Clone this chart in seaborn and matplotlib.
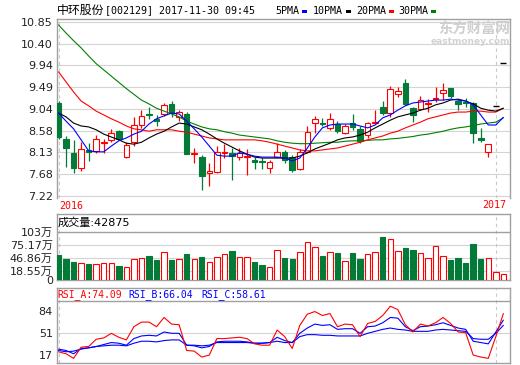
import numpy as np
import matplotlib
matplotlib.use("Agg")
import matplotlib.pyplot as plt
from matplotlib.patches import Rectangle
import seaborn as sns

# ---------------- data ----------------
open_ = [9.16, 8.41, 8.12, 7.80, 8.18, 8.16, 8.32, 8.39, 8.57, 8.03,
         8.34, 8.70, 8.93, 8.82, 8.93, 9.14, 8.87, 8.93, 8.09, 8.03,
         7.70, 7.72, 8.11, 8.11, 8.03, 8.03, 7.97, 7.95, 7.80, 8.03,
         8.14, 8.03, 7.78, 8.14, 8.74, 8.74, 8.64, 8.72, 8.53, 8.74,
         8.62, 8.49, 8.74, 9.08, 8.95, 9.35, 9.58, 9.05, 9.03, 9.14,
         9.24, 9.37, 9.47, 9.20, 9.18, 9.16, 8.43, 8.14, 9.10, 9.99]
high = [9.20, 8.47, 8.39, 8.34, 8.32, 8.49, 8.41, 8.62, 8.60, 8.34,
        8.87, 9.01, 9.08, 8.91, 9.16, 9.20, 9.01, 8.97, 8.22, 8.07,
        7.91, 8.26, 8.30, 8.22, 8.22, 8.20, 8.03, 8.01, 7.97, 8.32,
        8.18, 8.07, 8.20, 8.68, 8.89, 8.85, 8.95, 8.78, 8.72, 8.93,
        8.68, 8.76, 9.01, 9.20, 9.51, 9.49, 9.66, 9.08, 9.30, 9.24,
        9.49, 9.58, 9.47, 9.22, 9.26, 9.18, 8.64, 8.30, 9.10, 9.99]
low = [8.40, 7.82, 7.70, 7.74, 7.95, 8.11, 8.11, 8.34, 8.39, 8.01,
       8.26, 8.64, 8.82, 8.68, 8.89, 8.87, 8.78, 8.09, 7.91, 7.34,
       7.43, 7.70, 8.01, 7.55, 7.97, 7.66, 7.78, 7.78, 7.70, 8.03,
       7.91, 7.72, 7.76, 8.11, 8.53, 8.68, 8.59, 8.53, 8.51, 8.59,
       8.32, 8.43, 8.72, 8.91, 8.87, 9.28, 9.12, 8.76, 9.01, 8.97,
       9.18, 9.22, 9.26, 9.01, 9.08, 8.32, 8.34, 8.03, 9.10, 9.99]
close = [8.45, 8.22, 7.80, 8.20, 8.14, 8.41, 8.34, 8.53, 8.41, 8.28,
         8.70, 8.89, 8.91, 8.78, 9.12, 8.95, 8.97, 8.09, 8.11, 7.63,
         7.74, 8.14, 8.14, 8.05, 8.11, 8.05, 7.93, 7.93, 7.93, 8.14,
         7.97, 7.76, 8.14, 8.55, 8.82, 8.72, 8.82, 8.57, 8.68, 8.66,
         8.37, 8.74, 8.76, 8.95, 9.45, 9.41, 9.14, 8.91, 9.22, 9.16,
         9.26, 9.43, 9.30, 9.14, 9.16, 8.53, 8.39, 8.30, 9.10, 9.99]
ma5 = [8.95, 8.78, 8.62, 8.39, 8.16, 8.14, 8.14, 8.26, 8.37, 8.43,
       8.51, 8.57, 8.72, 8.83, 8.89, 8.95, 8.93, 8.78, 8.62, 8.45,
       8.26, 8.07, 8.05, 8.05, 8.12, 8.09, 8.05, 8.03, 8.03, 8.03,
       8.01, 7.95, 8.01, 8.22, 8.45, 8.64, 8.70, 8.72, 8.72, 8.72,
       8.68, 8.64, 8.70, 8.85, 8.91, 9.01, 9.10, 9.16, 9.18, 9.20,
       9.22, 9.22, 9.24, 9.22, 9.20, 9.12, 8.91, 8.70, 8.70, 8.86]
ma10 = [8.95, 8.87, 8.74, 8.68, 8.66, 8.60, 8.51, 8.45, 8.39, 8.32,
        8.30, 8.34, 8.43, 8.51, 8.57, 8.66, 8.74, 8.72, 8.66, 8.60,
        8.51, 8.41, 8.32, 8.24, 8.16, 8.09, 8.03, 8.01, 8.01, 8.01,
        8.01, 8.01, 8.05, 8.12, 8.20, 8.26, 8.32, 8.39, 8.43, 8.45,
        8.49, 8.55, 8.64, 8.72, 8.80, 8.87, 8.91, 8.95, 9.01, 9.05,
        9.12, 9.16, 9.22, 9.24, 9.20, 9.14, 9.05, 9.01, 8.99, 9.05]
ma20 = [9.81, 9.60, 9.39, 9.20, 9.10, 8.99, 8.91, 8.83, 8.76, 8.68,
        8.62, 8.60, 8.57, 8.60, 8.60, 8.60, 8.57, 8.55, 8.51, 8.47,
        8.43, 8.41, 8.39, 8.39, 8.39, 8.39, 8.39, 8.37, 8.34, 8.30,
        8.26, 8.22, 8.18, 8.16, 8.16, 8.18, 8.20, 8.22, 8.26, 8.30,
        8.34, 8.39, 8.43, 8.47, 8.53, 8.57, 8.64, 8.70, 8.76, 8.83,
        8.87, 8.91, 8.95, 8.97, 8.97, 8.99, 8.99, 8.97, 8.97, 9.05]
ma30 = [10.79, 10.62, 10.46, 10.31, 10.14, 9.98, 9.85, 9.72, 9.59, 9.46,
        9.34, 9.22, 9.14, 9.05, 8.99, 8.93, 8.87, 8.78, 8.72, 8.66,
        8.62, 8.60, 8.56, 8.53, 8.49, 8.47, 8.45, 8.43, 8.41, 8.37,
        8.34, 8.32, 8.31, 8.31, 8.32, 8.33, 8.34, 8.34, 8.36, 8.37,
        8.37, 8.38, 8.39, 8.39, 8.41, 8.42, 8.44, 8.46, 8.49, 8.51,
        8.54, 8.57, 8.61, 8.64, 8.66, 8.69, 8.72, 8.74, 8.76, 8.85]
volume = [53.6, 45.1, 38.0, 35.8, 33.6, 33.6, 35.8, 35.8, 30.0, 27.2,
          45.1, 46.5, 51.5, 42.9, 59.4, 42.9, 44.4, 55.1, 45.1, 48.6,
          38.0, 50.1, 55.1, 62.2, 50.1, 50.1, 38.0, 32.2, 28.6, 64.4,
          47.9, 45.1, 59.4, 80.8, 70.1, 51.5, 59.4, 57.2, 40.8, 57.2,
          45.1, 55.1, 59.4, 91.6, 88.0, 62.2, 69.4, 64.4, 57.2, 47.9,
          73.6, 52.2, 42.9, 47.9, 35.8, 76.6, 45.1, 46.5, 16.5, 12.2]
rsi_a = [22, 19, 12, 29, 30, 41, 43, 50, 44, 40,
         60, 67, 67, 60, 74, 64, 63, 24, 23, 14,
         17, 42, 42, 43, 44, 42, 34, 32, 32, 55,
         45, 27, 62, 79, 83, 77, 80, 60, 64, 63,
         45, 65, 68, 77, 91, 86, 63, 52, 64, 61,
         66, 74, 65, 52, 51, 17, 14, 12, 45, 80]
rsi_b = [26, 24, 19, 27, 28, 30, 33, 36, 35, 32,
         42, 46, 47, 46, 52, 50, 50, 32, 31, 28,
         30, 37, 38, 38, 38, 37, 35, 35, 36, 44,
         39, 36, 50, 58, 64, 62, 63, 56, 57, 57,
         50, 60, 61, 66, 74, 73, 60, 54, 60, 61,
         63, 66, 62, 58, 56, 38, 36, 34, 52, 70]
rsi_c = [24, 22, 23, 26, 28, 30, 31, 32, 32, 31,
         35, 38, 38, 37, 39, 40, 40, 32, 32, 31,
         32, 36, 36, 36, 36, 36, 35, 35, 36, 38,
         36, 36, 45, 48, 48, 47, 47, 46, 46, 46,
         46, 50, 53, 56, 58, 56, 55, 53, 53, 53,
         55, 56, 55, 54, 53, 42, 41, 41, 50, 62]
price_ticks = ["7.22", "7.68", "8.13", "8.58", "9.04", "9.49", "9.94", "10.40", "10.85"]
vol_ticks = [0, 18.55, 46.86, 75.17, 103]
vol_tick_labels = ["0", "18.55万", "46.86万", "75.17万", "103万"]
rsi_ticks = [17, 51, 84]
title_cn = "中环股份"
title_rest = "[002129] 2017-11-30 09:45"
ma_names = ["5PMA", "10PMA", "20PMA", "30PMA"]
vol_header = "成交量:42875"
rsi_headers = ["RSI_A:74.09", "RSI_B:66.04", "RSI_C:58.61"]
years = ["2016", "2017"]
year_idx = [0, 58]

# ---------------- style ----------------
sns.set_style("white")
plt.rcParams['font.family'] = ['DejaVu Sans', 'Noto Sans CJK SC']

RED = "#ff0000"
GREEN = "#037a37"
BLUE = "#0000ff"
FRAME = "#a0a0a0"
GRID = "#d4d4d4"
TXT = "#222222"

W, H = 520, 365
fig = plt.figure(figsize=(5.2, 3.65), dpi=100)
fig.patch.set_facecolor("white")


def box(top, bottom, left=57, right=510):
    return [left / W, 1 - bottom / H, (right - left) / W, (bottom - top) / H]


def ftext(x, y, s, **kw):
    fig.text(x / W, 1 - y / H, s, va="center", **kw)


n = len(close)
idx = np.arange(n)
o = np.array(open_); c = np.array(close); hi = np.array(high); lo = np.array(low)
up = c >= o
flat = (o == c) & (hi == lo)
edge = np.where(flat, "black", np.where(up, RED, GREEN))
face = np.where(up, "white", GREEN)
XL = (-0.2, 59.88)

ax = fig.add_axes(box(19, 198))
axv = fig.add_axes(box(214, 280))
axr = fig.add_axes(box(288, 363))

for a in (ax, axv, axr):
    a.set_xlim(*XL)
    a.set_xticks([])
    for s in a.spines.values():
        s.set_color(FRAME)
        s.set_linewidth(1.0)
    a.tick_params(axis="y", length=0, pad=3, labelsize=8, colors=TXT)
    for xi in year_idx:
        a.axvline(xi, color="#c8c8c8", lw=0.8, ls=(0, (3, 3)), zorder=0.5)
ax.spines["bottom"].set_visible(False)

# ---------------- main price panel ----------------
ax.set_ylim(7.176, 10.913)
tick_vals = np.linspace(7.2225, 10.8525, 9)
ax.set_yticks(tick_vals)
ax.set_yticklabels(price_ticks)
for tv in tick_vals:
    ax.axhline(tv, color=GRID, lw=0.8, zorder=0)

ax.vlines(idx[~flat], lo[~flat], hi[~flat], colors=edge[~flat], lw=0.9, zorder=2)
body_h = np.maximum(np.abs(c - o), 0.004)
body_b = np.minimum(o, c)
ax.bar(idx[~flat], body_h[~flat], bottom=body_b[~flat], width=0.74,
       color=face[~flat], edgecolor=edge[~flat], linewidth=0.8, zorder=3)
ax.hlines(c[flat], idx[flat] - 0.4, idx[flat] + 0.4, colors="black", lw=1.0, zorder=3)

for vals, col in ((ma30, "#008000"), (ma20, RED), (ma10, "black"), (ma5, BLUE)):
    sns.lineplot(x=idx, y=vals, ax=ax, color=col, linewidth=0.8, zorder=4)
ax.set_ylabel("")

# ---------------- volume panel ----------------
axv.set_ylim(0, 141.6)
axv.set_yticks(vol_ticks)
axv.set_yticklabels(vol_tick_labels)
for tv in vol_ticks[1:-1]:
    axv.axhline(tv, color=GRID, lw=0.8, zorder=0)
axv.axhline(vol_ticks[-1], color=FRAME, lw=1.0, zorder=1)
axv.bar(idx, volume, width=0.72, color=face, edgecolor=np.where(up, RED, GREEN),
        linewidth=0.8, zorder=3)

# ---------------- RSI panel ----------------
axr.set_ylim(5, 118.7)
axr.set_yticks(rsi_ticks)
axr.set_yticklabels([str(t) for t in rsi_ticks])
axr.axhline(51, color=GRID, lw=0.8, zorder=0)
axr.axhline(99, color=FRAME, lw=1.0, zorder=1)
sns.lineplot(x=idx, y=rsi_c, ax=axr, color=BLUE, linewidth=0.8, zorder=3)
sns.lineplot(x=idx, y=rsi_b, ax=axr, color=BLUE, linewidth=0.8, zorder=3)
sns.lineplot(x=idx, y=rsi_a, ax=axr, color=RED, linewidth=0.8, zorder=4)
for a in (ax, axv, axr):
    a.set_xlabel("")
    a.set_ylabel("")

# ---------------- texts ----------------
ftext(57, 10, title_cn, fontsize=8.6, family=["Noto Sans CJK SC"], color="black")
ftext(105, 10, title_rest, fontsize=7.2, family=["DejaVu Sans Mono"], color="black")

leg_x = [275, 313, 356, 398]
leg_col = [BLUE, "black", RED, "#008000"]
for name, lx, col in zip(ma_names, leg_x, leg_col):
    ftext(lx, 10.5, name, fontsize=7.2, family=["DejaVu Sans Mono"], color="black")
    wpx = len(name) * 6.0 + 3
    fig.add_artist(Rectangle(((lx + wpx) / W, 1 - 12.5 / H), 5 / W, 2.5 / H,
                             transform=fig.transFigure, color=col, lw=0))

ftext(438, 30, "东方财富网", fontsize=10.4, family=["Noto Sans CJK SC"],
      color="#cfcfcf", fontweight="bold")
ftext(510, 41, "eastmoney.com", fontsize=6.5, color="#d2d2d2",
      fontweight="bold", ha="right")

ftext(59, 206, years[0], fontsize=7.2, family=["DejaVu Sans Mono"], color=RED)
ftext(506, 205, years[1], fontsize=7.2, family=["DejaVu Sans Mono"], color=RED, ha="right")

ftext(57.5, 222.5, vol_header, fontsize=8, color="black")

rsi_x = [57.5, 128, 201]
rsi_col = [RED, BLUE, BLUE]
for s, rx, col in zip(rsi_headers, rsi_x, rsi_col):
    ftext(rx, 294.5, s, fontsize=7, family=["DejaVu Sans Mono"], color=col)

fig.savefig("out.png", dpi=100)
